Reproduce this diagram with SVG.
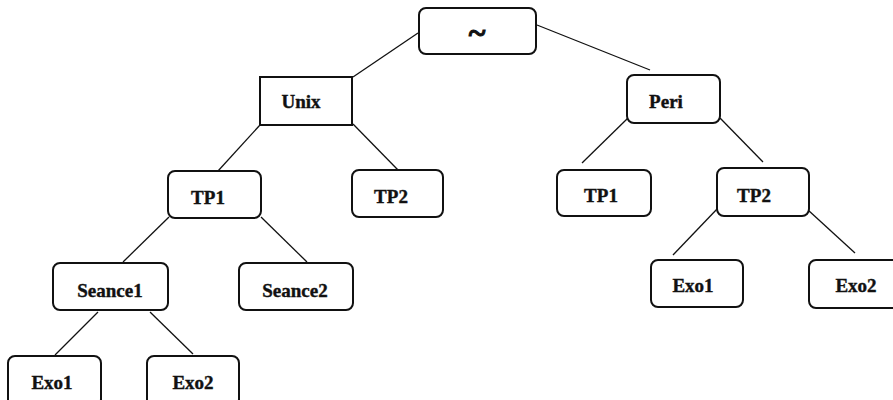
<svg xmlns="http://www.w3.org/2000/svg" width="893" height="400" viewBox="0 0 893 400">
  <style>
    .box { fill: #ffffff; stroke: #111111; stroke-width: 2; }
    .edge { stroke: #111111; stroke-width: 1.3; fill: none; }
    .lbl { font-family: "Liberation Serif", "Times New Roman", serif; font-weight: bold; font-size: 19px; fill: #111111; stroke: #111111; stroke-width: 0.4; text-anchor: middle; }
    .tilde { font-size: 32px; stroke-width: 1; }
  </style>
  <rect width="893" height="400" fill="#ffffff"/>

  <!-- connectors -->
  <g id="edges">
    <line class="edge" x1="418" y1="33" x2="353" y2="77"/>
    <line class="edge" x1="537" y1="25" x2="650" y2="70"/>
    <line class="edge" x1="260" y1="125" x2="218" y2="171"/>
    <line class="edge" x1="353" y1="124" x2="398" y2="170"/>
    <line class="edge" x1="628" y1="118" x2="582" y2="163"/>
    <line class="edge" x1="720" y1="118" x2="763" y2="162"/>
    <line class="edge" x1="169" y1="217" x2="123" y2="262"/>
    <line class="edge" x1="261" y1="217" x2="307" y2="262"/>
    <line class="edge" x1="718" y1="208" x2="673" y2="255"/>
    <line class="edge" x1="808" y1="210" x2="855" y2="253"/>
    <line class="edge" x1="98" y1="312" x2="55" y2="355"/>
    <line class="edge" x1="150" y1="312" x2="193" y2="354"/>
  </g>

  <!-- tree nodes -->
  <g id="root">
    <rect class="box" x="419" y="8" width="117" height="46" rx="7"/>
    <text class="lbl tilde" x="477" y="43">~</text>
  </g>
  <g id="unix">
    <rect class="box" x="260" y="77" width="92" height="48"/>
    <text class="lbl" x="301" y="108">Unix</text>
  </g>
  <g id="peri">
    <rect class="box" x="627" y="75" width="93" height="48" rx="7"/>
    <text class="lbl" x="666" y="108">Peri</text>
  </g>
  <g id="unix-tp1">
    <rect class="box" x="168" y="171" width="93" height="47" rx="7"/>
    <text class="lbl" x="208" y="204">TP1</text>
  </g>
  <g id="unix-tp2">
    <rect class="box" x="352" y="170" width="91" height="47" rx="7"/>
    <text class="lbl" x="391" y="203">TP2</text>
  </g>
  <g id="peri-tp1">
    <rect class="box" x="557" y="170" width="94" height="46" rx="7"/>
    <text class="lbl" x="601" y="202">TP1</text>
  </g>
  <g id="peri-tp2">
    <rect class="box" x="717" y="168" width="92" height="48" rx="7"/>
    <text class="lbl" x="754" y="202">TP2</text>
  </g>
  <g id="seance1">
    <rect class="box" x="53" y="263" width="115" height="47" rx="7"/>
    <text class="lbl" x="110" y="297">Seance1</text>
  </g>
  <g id="seance2">
    <rect class="box" x="239" y="263" width="114" height="47" rx="7"/>
    <text class="lbl" x="295" y="297">Seance2</text>
  </g>
  <g id="peri-exo1">
    <rect class="box" x="651" y="260" width="92" height="47" rx="7"/>
    <text class="lbl" x="693" y="292">Exo1</text>
  </g>
  <g id="peri-exo2">
    <rect class="box" x="809" y="260" width="90" height="48" rx="7"/>
    <text class="lbl" x="856" y="292">Exo2</text>
  </g>
  <g id="seance1-exo1">
    <rect class="box" x="8" y="356" width="93" height="50" rx="7"/>
    <text class="lbl" x="52" y="389">Exo1</text>
  </g>
  <g id="seance1-exo2">
    <rect class="box" x="147" y="356" width="92" height="50" rx="7"/>
    <text class="lbl" x="193" y="389">Exo2</text>
  </g>
</svg>
